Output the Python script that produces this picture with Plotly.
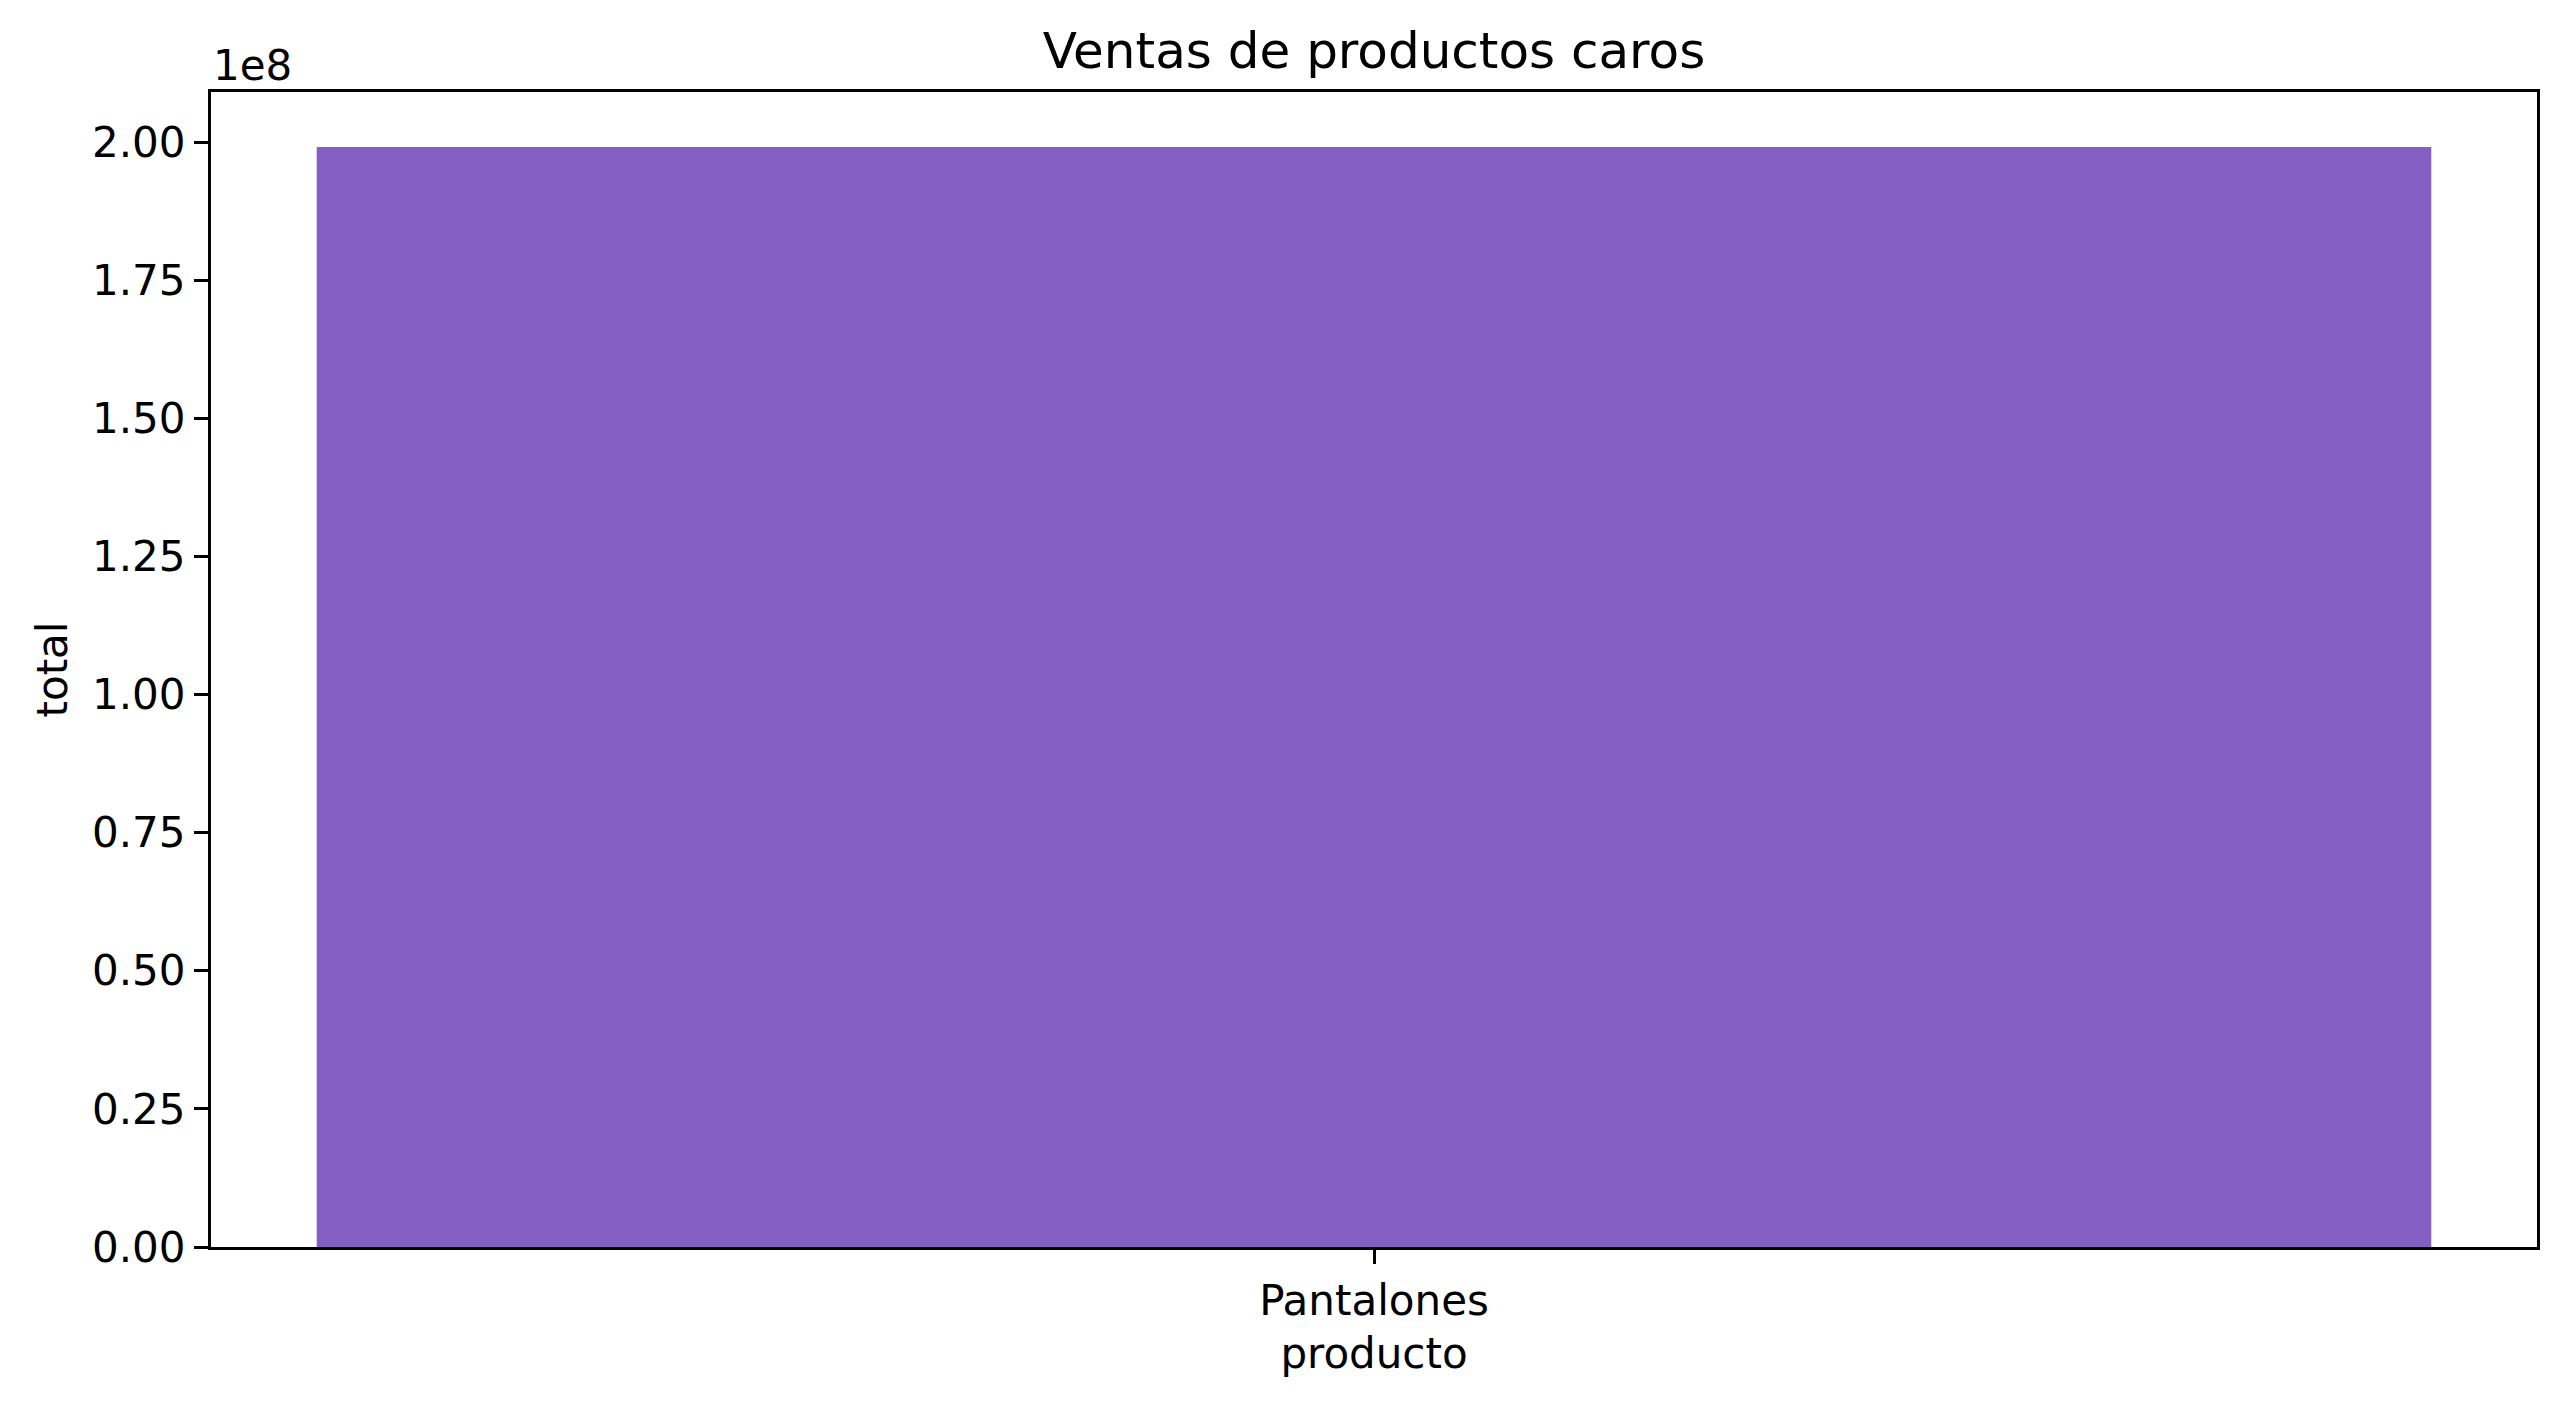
import plotly.graph_objects as go

productos = ["Pantalones"]
totales = [1.991e8]
ytick_vals = [0, 0.25e8, 0.5e8, 0.75e8, 1.0e8, 1.25e8, 1.5e8, 1.75e8, 2.0e8]
ytick_text = ["0.00", "0.25", "0.50", "0.75", "1.00", "1.25", "1.50", "1.75", "2.00"]

FONT = "DejaVu Sans"
OFF = 8  # default page body margin
W, H = 2565 - OFF, 1407 - OFF
L, R, T, B = 211 - OFF, 2537 - OFF, 92 - OFF, 1247 - OFF

fig = go.Figure(
    go.Bar(x=productos, y=totales, marker=dict(color="#845EC2", line=dict(width=0)), width=0.8)
)

fig.update_layout(
    width=W, height=H,
    margin=dict(l=L, r=W - R, t=T, b=H - B, pad=0),
    paper_bgcolor="white", plot_bgcolor="white",
    font=dict(family=FONT, size=42, color="black"),
    showlegend=False,
    title=dict(text="Ventas de productos caros", x=(L + R) / 2 / W, xanchor="center",
               y=1 - (68 - OFF) / H, yanchor="bottom", font=dict(size=50, family=FONT, color="black"),
               yref="container"),
    bargap=0.2,
)

fig.update_xaxes(
    type="category", range=[-0.44, 0.44],
    showline=True, linecolor="black", linewidth=3.3, mirror=True,
    ticks="outside", ticklen=14, tickwidth=3.3, tickcolor="black",
    tickfont=dict(size=42, family=FONT, color="black"),
    showgrid=False, zeroline=False,
    title=dict(text="producto", font=dict(size=42, family=FONT, color="black"), standoff=16),
)

fig.update_yaxes(
    range=[0, max(totales) * 1.05],
    tickvals=ytick_vals, ticktext=ytick_text,
    showline=True, linecolor="black", linewidth=3.3, mirror=True,
    ticks="outside", ticklen=14, tickwidth=3.3, tickcolor="black",
    tickfont=dict(size=42, family=FONT, color="black"),
    showgrid=False, zeroline=False,
    title=dict(text="total", font=dict(size=42, family=FONT, color="black"), standoff=12),
)

fig.add_annotation(
    text="1e8", xref="paper", yref="paper", x=0, y=1, xanchor="left", yanchor="bottom",
    showarrow=False, font=dict(size=42, family=FONT, color="black"), yshift=0,
)

fig.write_html("out.html")
